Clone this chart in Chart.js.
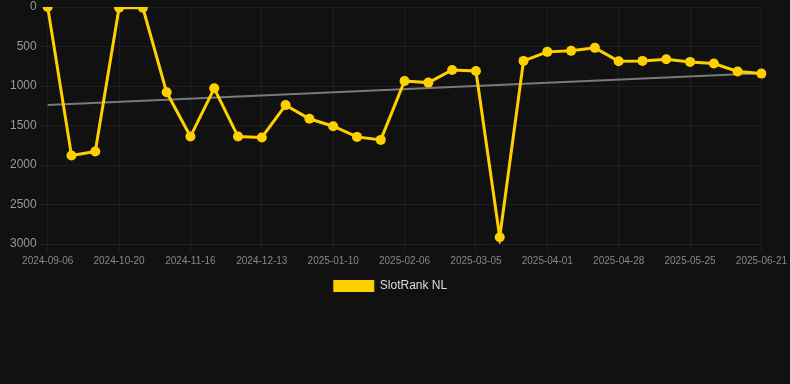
<!DOCTYPE html>
<html>
<head>
<meta charset="utf-8">
<script src="https://cdn.jsdelivr.net/npm/chart.js@4.4.1/dist/chart.umd.min.js"></script>
<style>
    html, body {
        margin: 0;
        padding: 0;
        background: #111111;
    }
    #wrap {
        width: 790px;
        height: 302px;
        position: relative;
    }
</style>
</head>
<body>
<div id="wrap"><canvas id="rankChart"></canvas></div>
<script>
// ============================================
// SLOTRANK NL - RANK HISTORY CHART
// ============================================

const dates = [
    "2024-09-06", "2024-09-21", "2024-10-05", "2024-10-20", "2024-10-29", "2024-11-07",
    "2024-11-16", "2024-11-25", "2024-12-04", "2024-12-13", "2024-12-22", "2024-12-31",
    "2025-01-10", "2025-01-19", "2025-01-28", "2025-02-06", "2025-02-15", "2025-02-24",
    "2025-03-05", "2025-03-14", "2025-03-23", "2025-04-01", "2025-04-10", "2025-04-19",
    "2025-04-28", "2025-05-07", "2025-05-16", "2025-05-25", "2025-06-03", "2025-06-12",
    "2025-06-21"
];

const rankValues = [
    1, 1880, 1830, 10, 10, 1080,
    1640, 1030, 1640, 1652, 1242, 1415,
    1509, 1644, 1682, 937, 957, 797,
    810, 2915, 682, 568, 555, 517,
    686, 682, 661, 695, 716, 817,
    843
];

// trend line: only start and end values, gap spanned
const trendValues = [
    1242, null, null, null, null, null,
    null, null, null, null, null, null,
    null, null, null, null, null, null,
    null, null, null, null, null, null,
    null, null, null, null, null, null,
    839
];

const yTicks = [0, 500, 1000, 1500, 2000, 2500, 3000];

const gridColor = "rgba(255, 255, 255, 0.06)";
const fontFamily = "'Liberation Sans', Arial, sans-serif";

const ctx = document.getElementById("rankChart").getContext("2d");
let rankChart = new Chart(ctx, {
    type: "line",
    data: {
        labels: dates,
        datasets: [
            {
                label: "SlotRank NL",
                data: rankValues,
                borderColor: "#ffd000",
                backgroundColor: "#ffd000",
                borderWidth: 3,
                tension: 0,
                fill: false,
                pointRadius: 5,
                pointBackgroundColor: "#ffd000",
                pointBorderColor: "#ffd000",
                pointBorderWidth: 0,
                order: 1
            },
            {
                label: "Trend",
                data: trendValues,
                borderColor: "rgba(140, 140, 140, 0.85)",
                borderWidth: 2,
                pointRadius: 0,
                spanGaps: true,
                fill: false,
                order: 2
            }
        ]
    },
    options: {
        responsive: true,
        maintainAspectRatio: false,
        animation: false,
        layout: {
            padding: { left: 7, right: 16, top: 0, bottom: 0 }
        },
        plugins: {
            legend: {
                position: "bottom",
                labels: {
                    color: "#dddddd",
                    font: { size: 12, family: fontFamily },
                    boxWidth: 40,
                    boxHeight: 11,
                    padding: 10,
                    filter: (item) => item.text !== "Trend",
                    generateLabels: (chart) => {
                        let items = Chart.defaults.plugins.legend.labels.generateLabels(chart);
                        items.forEach(it => { it.lineWidth = 1; });
                        return items;
                    }
                }
            },
            tooltip: { enabled: false }
        },
        scales: {
            y: {
                reverse: true,
                min: 0,
                max: 3000,
                afterBuildTicks: (axis) => {
                    axis.ticks = yTicks.map(v => ({ value: v }));
                },
                afterFit: (axis) => {
                    axis.paddingTop = 7;
                },
                ticks: {
                    color: "#999999",
                    font: { size: 12, family: fontFamily },
                    callback: (v) => String(v)
                },
                grid: {
                    color: gridColor
                },
                border: { display: false }
            },
            x: {
                ticks: {
                    color: "#888888",
                    font: { size: 10, family: fontFamily },
                    maxRotation: 0,
                    minRotation: 0,
                    autoSkip: true,
                    maxTicksLimit: 11
                },
                grid: {
                    color: gridColor
                },
                border: { display: false }
            }
        }
    }
});
</script>
</body>
</html>
